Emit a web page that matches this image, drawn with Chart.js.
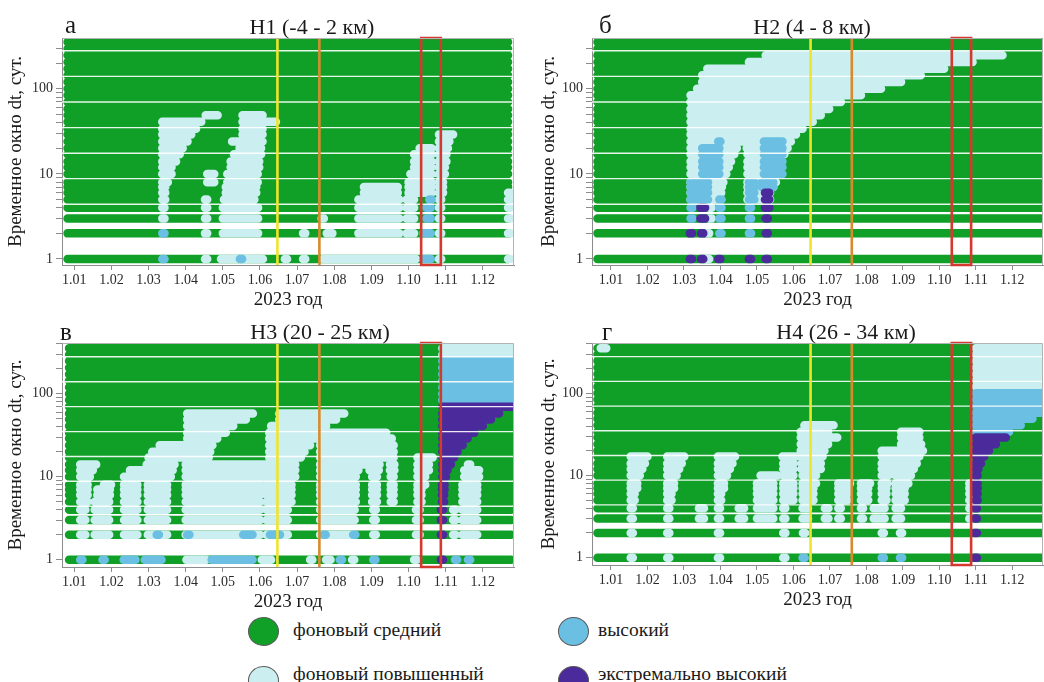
<!DOCTYPE html>
<html lang="ru">
<head>
<meta charset="utf-8">
<title>Временное окно dt – 2023</title>
<script src="https://cdn.jsdelivr.net/npm/chart.js@4.4.1/dist/chart.umd.min.js"></script>
<style>
  html, body { margin: 0; padding: 0; background: #fff; }
  body { width: 1044px; height: 682px; position: relative; overflow: hidden;
         font-family: "Liberation Serif", "Times New Roman", serif; color: #1a1a1a; }
  .panel { position: absolute; }
  .panel canvas { display: block; }
  .tag { position: absolute; font-size: 25px; line-height: 25px; }
  .ttl { position: absolute; font-size: 22px; line-height: 22px; white-space: nowrap; transform: translateX(-50%); }
  .lg { position: absolute; font-size: 19.5px; line-height: 19.5px; white-space: nowrap; }
  .dot { position: absolute; width: 31px; height: 29px; border-radius: 50%; border: 1px solid #5a5a5a; box-sizing: border-box; }
</style>
</head>
<body>

<div class="panel" style="left:0;top:0"><canvas id="chA" width="520" height="311"></canvas></div>
<div class="panel" style="left:520px;top:0"><canvas id="chB" width="524" height="311"></canvas></div>
<div class="panel" style="left:0;top:312px"><canvas id="chC" width="520" height="301"></canvas></div>
<div class="panel" style="left:520px;top:312px"><canvas id="chD" width="524" height="299"></canvas></div>

<div class="tag" style="left:65px;top:12px">а</div>
<div class="tag" style="left:599px;top:12px">б</div>
<div class="tag" style="left:60px;top:319px">в</div>
<div class="tag" style="left:602px;top:319px">г</div>

<div class="ttl" style="left:312px;top:16px">Н1 (-4 - 2 км)</div>
<div class="ttl" style="left:812px;top:16px">Н2 (4 - 8 км)</div>
<div class="ttl" style="left:320px;top:321px">Н3 (20 - 25 км)</div>
<div class="ttl" style="left:846px;top:321px">Н4 (26 - 34 км)</div>

<div class="dot" style="left:248px;top:617px;background:#10a028"></div>
<div class="lg" style="left:293px;top:620px">фоновый средний</div>
<div class="dot" style="left:248px;top:666px;background:#cbeef0"></div>
<div class="lg" style="left:293px;top:664px">фоновый повышенный</div>
<div class="dot" style="left:558px;top:617px;background:#6abfe2"></div>
<div class="lg" style="left:598px;top:620px">высокий</div>
<div class="dot" style="left:558px;top:666px;background:#4b2a9c"></div>
<div class="lg" style="left:598px;top:664px">экстремально высокий</div>

<script>
// dt windows (days) drawn as rows of dots; x = month of 2023 (1 = 1 Jan)
const DT_LEVELS = [1, 2, 3, 4, 5, 6, 7, 8, 10, 12, 14, 17, 20, 24, 29, 34, 41, 49, 58, 70, 84, 100, 120, 144, 172, 206, 248, 296, 355];
const SEPARATOR_DT = [4.4, 8.8, 17.5, 35, 70, 140, 280];

const MONTH_TICKS = [1, 2, 3, 4, 5, 6, 7, 8, 9, 10, 11, 12];
const MONTH_LABELS = ["1.01", "1.02", "1.03", "1.04", "1.05", "1.06", "1.07", "1.08", "1.09", "1.10", "1.11", "1.12"];
const Y_TICKS = [1, 2, 3, 4, 5, 6, 7, 8, 9, 10, 20, 30, 40, 50, 60, 70, 80, 90, 100, 200, 300, 400];
const Y_LABELED = [1, 10, 100];

const YELLOW_DATE = 6.47;
const ORANGE_DATE = 7.6;
const RED_WINDOW = [10.34, 10.87];

// period covered by the background rows, per panel
const ROWS_A = [0.82, 12.68];
const ROWS_B = [0.63, 13.0];
const ROWS_C = [0.86, 12.76];
const ROWS_D = [0.63, 13.0];

// runs: [xFrom, xTo, dtFrom, dtTo]
// ---- H1
const CYAN_A = [
  [3.37, 3.37, 3, 4], [3.37, 3.45, 5, 7], [3.37, 3.52, 8, 8], [3.37, 3.62, 10, 12],
  [3.37, 3.74, 14, 14], [3.37, 3.84, 17, 17], [3.37, 3.92, 20, 20], [3.37, 4.05, 24, 24],
  [3.37, 4.15, 29, 29], [3.37, 4.28, 34, 34], [3.37, 4.42, 41, 41], [4.54, 4.86, 49, 49],
  [4.52, 4.52, 1, 5], [4.58, 4.77, 8, 10],
  [4.95, 6.08, 1, 1], [5.00, 5.95, 2, 4], [5.03, 5.85, 5, 5], [5.08, 5.90, 6, 7],
  [5.12, 5.94, 8, 10], [5.21, 5.98, 12, 14], [5.30, 6.03, 17, 17], [5.45, 6.03, 20, 20],
  [5.25, 6.07, 24, 24], [5.53, 6.07, 29, 34], [5.53, 6.43, 41, 41], [5.53, 6.07, 49, 49],
  [6.67, 6.67, 1, 1], [7.16, 7.16, 1, 2], [7.66, 7.66, 3, 3], [7.80, 7.95, 2, 2],
  [7.70, 10.20, 1, 1], [8.65, 9.75, 2, 5], [8.80, 9.71, 6, 7], [9.95, 10.15, 2, 5],
  [10.00, 10.10, 6, 8], [10.05, 10.62, 6, 10], [10.15, 10.62, 12, 17], [10.30, 10.62, 20, 20],
  [10.82, 10.84, 1, 4], [10.82, 10.88, 5, 5], [10.82, 10.93, 6, 8], [10.82, 10.98, 10, 12],
  [10.82, 11.02, 14, 17], [10.82, 11.06, 20, 20], [10.82, 11.10, 24, 24], [10.82, 11.20, 29, 29],
  [12.68, 12.68, 1, 6]
];
const BLUE_A = [
  [3.37, 3.37, 1, 2], [5.46, 5.46, 1, 1], [10.40, 10.60, 1, 2], [10.48, 10.60, 3, 4], [10.56, 10.60, 5, 5]
];
const PURPLE_A = [];

// ---- H2
const CYAN_B = [
  [5.24, 11.73, 248, 248], [4.78, 10.91, 206, 206], [3.64, 10.13, 172, 172], [3.50, 9.49, 144, 144],
  [3.50, 8.95, 120, 120], [3.36, 8.40, 100, 100], [3.18, 7.85, 84, 84], [3.18, 7.30, 70, 70],
  [3.18, 6.98, 58, 58], [3.18, 6.75, 49, 49], [3.18, 6.53, 41, 41], [3.18, 6.25, 34, 34],
  [3.18, 6.07, 29, 29], [3.18, 5.93, 24, 24],
  [3.18, 4.45, 20, 20], [4.72, 5.84, 20, 20],
  [3.18, 4.38, 17, 17], [4.74, 5.75, 17, 17],
  [3.18, 4.29, 14, 14], [4.74, 5.68, 14, 14],
  [3.18, 4.23, 12, 12], [4.74, 5.61, 12, 12],
  [3.18, 4.16, 10, 10], [4.74, 5.57, 10, 10],
  [3.18, 4.08, 8, 8], [4.74, 5.52, 8, 8],
  [3.18, 4.04, 7, 7], [4.74, 5.45, 7, 7],
  [3.18, 4.02, 5, 6], [4.74, 5.36, 5, 6],
  [3.63, 3.63, 1, 2], [3.70, 3.76, 3, 4]
];
const BLUE_B = [
  [3.18, 3.66, 5, 8], [3.50, 3.97, 10, 20], [3.94, 3.94, 24, 24], [3.18, 3.18, 3, 4],
  [3.97, 3.97, 2, 5], [4.78, 4.78, 2, 4], [4.78, 4.93, 5, 8], [5.13, 5.45, 7, 8], [5.19, 5.70, 10, 24]
];
const PURPLE_B = [
  [3.16, 3.16, 1, 2], [3.47, 3.47, 1, 2], [3.45, 3.58, 3, 4], [3.94, 3.94, 1, 1],
  [4.78, 4.78, 1, 1], [5.24, 5.24, 1, 3], [5.22, 5.34, 4, 6]
];

// ---- H3
const CYAN_C = [
  [1.16, 1.59, 14, 14], [1.16, 1.50, 12, 12], [1.16, 1.42, 10, 10], [1.16, 1.36, 5, 8], [1.16, 1.30, 2, 4],
  [1.80, 1.99, 8, 8], [1.62, 1.96, 6, 7], [1.55, 1.94, 2, 5],
  [2.50, 3.65, 12, 12], [2.34, 3.60, 10, 10], [2.34, 2.70, 2, 8], [2.98, 3.50, 2, 8],
  [2.95, 3.70, 14, 14], [3.00, 4.62, 17, 17], [3.10, 4.66, 20, 20], [3.30, 4.72, 24, 24],
  [4.04, 5.81, 58, 58], [4.04, 5.62, 49, 49], [4.04, 5.28, 41, 41], [4.04, 5.08, 34, 34], [4.04, 4.85, 29, 29],
  [4.00, 6.95, 10, 14], [4.00, 6.00, 2, 8], [6.18, 6.85, 5, 8], [6.18, 6.75, 2, 4],
  [6.52, 8.27, 58, 58], [6.52, 8.05, 49, 49], [6.30, 7.78, 41, 41], [6.25, 9.40, 34, 34], [6.25, 9.55, 29, 29],
  [6.25, 7.35, 24, 24], [7.62, 9.60, 24, 24],
  [6.25, 7.20, 20, 20], [7.62, 9.60, 20, 20],
  [6.25, 7.10, 17, 17], [7.62, 9.60, 17, 17],
  [7.62, 9.22, 14, 14], [9.50, 9.62, 14, 14],
  [7.62, 8.65, 12, 12], [8.95, 9.20, 12, 12], [9.50, 9.62, 12, 12],
  [7.62, 8.58, 5, 10], [9.02, 9.15, 5, 10], [9.52, 9.60, 5, 10],
  [7.62, 8.55, 2, 4], [9.05, 9.12, 2, 4],
  [10.24, 10.65, 17, 17], [10.24, 10.55, 12, 14], [10.24, 10.45, 8, 10], [10.24, 10.35, 5, 7], [10.20, 10.30, 2, 4],
  [11.60, 11.65, 14, 14], [11.50, 11.90, 10, 12], [11.45, 11.85, 2, 8], [11.20, 11.25, 2, 4],
  [10.91, 12.90, 296, 355],
  [4.02, 4.55, 1, 1], [6.05, 6.30, 1, 1], [7.35, 7.35, 1, 1], [7.78, 7.90, 1, 1], [8.48, 8.48, 1, 1], [10.15, 10.22, 1, 1]
];
const BLUE_C = [
  [10.91, 12.90, 84, 248],
  [1.16, 1.16, 1, 1], [1.76, 1.76, 1, 1], [2.33, 2.65, 1, 1], [2.90, 3.35, 1, 1], [4.70, 5.80, 1, 1],
  [8.15, 8.15, 1, 1], [9.05, 9.05, 1, 1], [11.25, 11.25, 1, 1], [11.60, 11.60, 1, 1],
  [3.22, 3.22, 2, 2], [4.04, 4.04, 2, 2], [5.55, 5.80, 2, 2], [6.27, 6.54, 2, 2], [7.71, 7.71, 2, 2], [8.51, 8.51, 2, 2]
];
const PURPLE_C = [
  [10.91, 12.90, 70, 70], [10.91, 12.44, 58, 58], [10.91, 12.22, 49, 49], [10.91, 12.00, 41, 41],
  [10.91, 11.77, 34, 34], [10.91, 11.59, 29, 29], [10.91, 11.46, 24, 24], [10.91, 11.32, 20, 20],
  [10.91, 11.23, 17, 17], [10.91, 11.14, 14, 14], [10.91, 11.05, 12, 12], [10.91, 11.01, 10, 10],
  [10.90, 10.97, 7, 8], [10.90, 10.94, 5, 6], [10.87, 10.89, 1, 4]
];

// ---- H4
const CYAN_D = [
  [0.72, 0.87, 355, 355],
  [1.54, 2.00, 17, 17], [1.54, 1.93, 14, 14], [1.54, 1.86, 12, 12], [1.54, 1.79, 10, 10], [1.54, 1.72, 7, 8], [1.54, 1.65, 5, 6], [1.54, 1.56, 1, 4],
  [2.54, 3.01, 17, 17], [2.54, 2.94, 14, 14], [2.54, 2.87, 12, 12], [2.54, 2.80, 10, 10], [2.54, 2.73, 7, 8], [2.54, 2.66, 5, 6], [2.54, 2.56, 1, 4],
  [3.41, 3.55, 3, 4],
  [3.93, 4.40, 17, 17], [3.93, 4.33, 14, 14], [3.93, 4.26, 12, 12], [3.93, 4.18, 10, 10], [3.93, 4.10, 7, 8], [3.93, 4.02, 5, 6], [3.93, 3.95, 1, 4],
  [4.50, 4.65, 3, 4],
  [5.10, 5.56, 10, 10], [5.00, 5.45, 3, 8],
  [5.70, 6.07, 17, 17], [5.72, 6.00, 5, 14], [5.72, 5.75, 1, 4],
  [6.30, 7.10, 41, 41], [6.20, 6.95, 34, 34], [6.20, 7.20, 29, 29], [6.20, 6.95, 24, 24],
  [6.20, 6.85, 20, 20], [6.20, 6.80, 17, 17], [6.22, 6.75, 12, 14], [6.25, 6.62, 8, 10],
  [6.25, 6.55, 5, 7], [6.25, 6.40, 3, 4], [6.26, 6.28, 2, 2],
  [6.86, 6.96, 3, 4],
  [7.23, 7.55, 8, 8], [7.23, 7.48, 5, 7], [7.23, 7.30, 3, 4],
  [7.85, 8.10, 8, 8], [7.85, 8.05, 5, 7], [7.85, 7.90, 3, 4],
  [8.20, 8.35, 3, 4],
  [8.95, 9.45, 29, 34], [8.95, 9.50, 24, 24], [8.42, 9.55, 20, 20], [8.42, 9.45, 17, 17],
  [8.42, 9.38, 14, 14], [8.42, 9.30, 12, 12],
  [8.42, 8.60, 10, 10], [8.80, 9.22, 10, 10], [8.42, 8.58, 8, 8], [8.80, 9.15, 8, 8],
  [8.42, 8.55, 5, 7], [8.80, 9.05, 5, 7], [8.42, 8.50, 3, 4], [8.80, 8.95, 3, 4],
  [8.42, 8.44, 2, 2], [8.92, 8.94, 2, 2],
  [10.82, 10.84, 3, 8],
  [11.00, 13.00, 120, 355]
];
const BLUE_D = [
  [11.00, 13.00, 58, 100], [11.00, 12.55, 49, 49], [11.00, 12.23, 41, 41], [11.00, 11.91, 34, 34],
  [6.25, 6.25, 1, 1], [8.42, 8.42, 1, 1], [8.92, 8.92, 1, 1]
];
const PURPLE_D = [
  [11.00, 11.82, 29, 29], [11.00, 11.55, 24, 24], [11.00, 11.36, 20, 20], [11.00, 11.23, 17, 17],
  [11.00, 11.14, 14, 14], [11.00, 11.07, 12, 12], [10.99, 11.03, 5, 10], [10.97, 10.99, 1, 4]
];

// ============================
// look
// ============================
const SERIF = "'Liberation Serif', 'Times New Roman', serif";
const C_GREEN = "#10a028";
const C_CYAN = "#cbeef0";
const C_BLUE = "#6abfe2";
const C_PURPLE = "#4b2a9c";
const DOT_W = 8.5;
const MIN_RUN = 0.06;

const PANELS = [
  { id: "chA", rows: ROWS_A, cyan: CYAN_A, blue: BLUE_A, purple: PURPLE_A,
    xMin: 0.67, xMax: 12.84, yMin: 0.85, yMax: 395, pad: { top: 38, left: 0, right: 6, bottom: 0 }, yAxisW: 62, yTitlePad: 5 },
  { id: "chB", rows: ROWS_B, cyan: CYAN_B, blue: BLUE_B, purple: PURPLE_B,
    xMin: 0.48, xMax: 12.84, yMin: 0.85, yMax: 395, pad: { top: 38, left: 0, right: 1, bottom: 0 }, yAxisW: 72, yTitlePad: 18 },
  { id: "chC", rows: ROWS_C, cyan: CYAN_C, blue: BLUE_C, purple: PURPLE_C,
    xMin: 0.67, xMax: 12.84, yMin: 0.815, yMax: 410, pad: { top: 31, left: 0, right: 6, bottom: 0 }, yAxisW: 62, yTitlePad: 5 },
  { id: "chD", rows: ROWS_D, cyan: CYAN_D, blue: BLUE_D, purple: PURPLE_D,
    xMin: 0.48, xMax: 12.84, yMin: 0.815, yMax: 410, pad: { top: 31, left: 0, right: 1, bottom: 0 }, yAxisW: 72, yTitlePad: 18 }
];

function runPoints(runs) {
  const pts = [];
  for (const [x0, x1, lo, hi] of runs) {
    const end = Math.max(x1, x0 + MIN_RUN);
    for (const dt of DT_LEVELS) {
      if (dt < lo || dt > hi) continue;
      pts.push({ x: x0, y: dt }, { x: end, y: dt }, { x: end, y: null });
    }
  }
  return pts;
}

function lineSet(points, color, width, extra) {
  return Object.assign({
    data: points, showLine: true, borderColor: color, backgroundColor: color, borderWidth: width,
    pointRadius: 0, pointHoverRadius: 0, borderCapStyle: "round", spanGaps: false, tension: 0, fill: false, clip: 0
  }, extra || {});
}

const framePlugin = {
  id: "frame",
  afterDatasetsDraw(chart) {
    const { ctx, chartArea: a } = chart;
    ctx.save();
    ctx.strokeStyle = "#b3b3b3";
    ctx.lineWidth = 1;
    ctx.beginPath();
    ctx.moveTo(Math.round(a.left) + 0.5, Math.round(a.top) + 0.5);
    ctx.lineTo(Math.round(a.right) - 0.5, Math.round(a.top) + 0.5);
    ctx.lineTo(Math.round(a.right) - 0.5, Math.round(a.bottom));
    ctx.stroke();
    ctx.restore();
  }
};

function buildChart(p) {
  const seps = [];
  for (const s of SEPARATOR_DT) seps.push({ x: p.xMin, y: s }, { x: p.xMax, y: s }, { x: p.xMax, y: null });

  const layers = [
    lineSet(runPoints([[p.rows[0], p.rows[1], 1, 400]]), C_GREEN, DOT_W),
    lineSet(runPoints(p.cyan), C_CYAN, DOT_W),
    lineSet(runPoints(p.blue), C_BLUE, DOT_W),
    lineSet(runPoints(p.purple), C_PURPLE, DOT_W),
    lineSet(seps, "rgba(255,255,255,0.9)", 1.4, { borderCapStyle: "butt" }),
    lineSet([{ x: YELLOW_DATE, y: p.yMin }, { x: YELLOW_DATE, y: p.yMax }], "#f1e52a", 2.6, { borderCapStyle: "butt", clip: false }),
    lineSet([{ x: ORANGE_DATE, y: p.yMin }, { x: ORANGE_DATE, y: p.yMax }], "#d98a2c", 2.6, { borderCapStyle: "butt", clip: false }),
    lineSet([
      { x: RED_WINDOW[0], y: p.yMin }, { x: RED_WINDOW[0], y: p.yMax }, { x: RED_WINDOW[1], y: p.yMax },
      { x: RED_WINDOW[1], y: p.yMin }, { x: RED_WINDOW[0], y: p.yMin }
    ], "#d3392e", 2.6, { borderCapStyle: "square", borderJoinStyle: "miter", clip: false })
  ];
  // first layer at the bottom
  layers.forEach((ds, i) => { ds.order = layers.length - i; });

  const tickFont = { family: SERIF, size: 14 };
  const titleFont = { family: SERIF, size: 19 };

  return new Chart(document.getElementById(p.id), {
    type: "scatter",
    data: { datasets: layers },
    options: {
      responsive: false,
      devicePixelRatio: 1,
      animation: false,
      events: [],
      layout: { padding: p.pad },
      plugins: { legend: { display: false }, tooltip: { enabled: false } },
      scales: {
        x: {
          type: "linear", min: p.xMin, max: p.xMax,
          afterBuildTicks: (s) => { s.ticks = MONTH_TICKS.map((v) => ({ value: v })); },
          afterFit: (s) => { s.height = 46; },
          ticks: {
            callback: (v) => MONTH_LABELS[MONTH_TICKS.indexOf(v)] || "",
            autoSkip: false, maxRotation: 0, minRotation: 0, padding: 2, color: "#2a2a2a", font: tickFont
          },
          grid: { drawOnChartArea: false, drawTicks: true, tickLength: 5, color: "#8c8c8c" },
          border: { display: true, color: "#8c8c8c" },
          title: { display: true, text: "2023 год", color: "#1a1a1a", font: titleFont, padding: { top: 0, bottom: 0 } }
        },
        y: {
          type: "logarithmic", min: p.yMin, max: p.yMax,
          afterBuildTicks: (s) => {
            s.ticks = Y_TICKS.filter((v) => v >= p.yMin && v <= p.yMax).map((v) => ({ value: v }));
          },
          afterFit: (s) => { s.width = p.yAxisW; },
          ticks: {
            callback: (v) => (Y_LABELED.includes(v) ? String(v) : ""),
            autoSkip: false, padding: 3, color: "#2a2a2a", font: tickFont
          },
          grid: { drawOnChartArea: false, drawTicks: true, tickLength: 6, color: "#8c8c8c" },
          border: { display: true, color: "#8c8c8c" },
          title: { display: true, text: "Временное окно dt, сут.", color: "#1a1a1a", font: titleFont, padding: { top: p.yTitlePad, bottom: 0 } }
        }
      }
    },
    plugins: [framePlugin]
  });
}

PANELS.forEach(buildChart);
</script>
</body>
</html>
